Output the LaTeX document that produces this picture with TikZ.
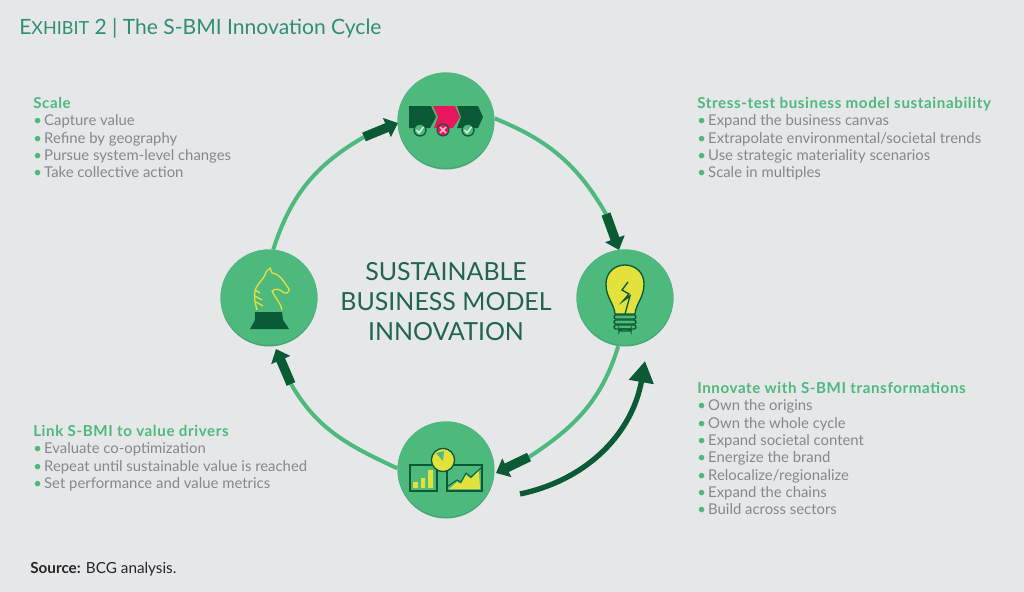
\documentclass[tikz,border=0pt]{standalone}
\usepackage{fontspec}
\setmainfont{Lato}
\newfontface\headface[LetterSpace=4]{Lato Bold}
\usetikzlibrary{arrows.meta}
\definecolor{paper}{HTML}{E6E7E9}
\definecolor{ringgreen}{HTML}{4DB97C}
\definecolor{rimgreen}{HTML}{45A873}
\definecolor{darkgreen}{HTML}{0B5A36}
\definecolor{titlegreen}{HTML}{2E8F74}
\definecolor{bodygrey}{HTML}{85888B}
\definecolor{bulbyellow}{HTML}{E3E13B}
\definecolor{alarmred}{HTML}{E8175D}
\tikzset{
	hub/.style = {circle, fill = rimgreen, minimum size = 72.75pt, inner sep = 0pt,
		path picture = {\fill [ringgreen] ([yshift = 1.3pt] path picture bounding box.center) circle (36.4pt);}},
	ringline/.style = {ringgreen, line width = 3pt},
	cyclearrow/.style = {darkgreen, line width = 7pt, -{Triangle[length = 9pt, width = 15pt]}},
	bigarrow/.style = {darkgreen, line width = 4pt, -{Triangle[length = 16pt, width = 18pt]}},
	textblock/.style = {anchor = north west, inner sep = 0pt, align = left, text = bodygrey, font = \fontsize{11.15}{13}\selectfont},
	iconline/.style = {darkgreen, line width = 1pt},
	knightline/.style = {bulbyellow, line width = 1pt, line join = round}
}
\newcommand{\bul}{\makebox[8.2pt][l]{\textcolor{ringgreen}{\textbullet}}}
\newcommand{\hd}[1]{\textcolor{ringgreen}{\headface\fontsize{11.35}{13}\selectfont #1}}
\begin{document}
\begin{tikzpicture}[x = 0.75pt, y = -0.75pt]
		\fill [paper] (0, 0) rectangle (1024, 592);
		\useasboundingbox (0, 0) rectangle (1024, 592);
		%%%%%%%%%%%%%
		\node [hub] (top) at (446, 121) {};
		\node [hub] (right) at (625, 298) {};
		\node [hub] (bottom) at (446, 470) {};
		\node [hub] (left) at (269, 298) {};
		%%%%%%%%%%%%%
		\coordinate (tailTR) at (606, 214); \coordinate (tipTR) at (619, 250);
		\coordinate (tailRB) at (529, 457); \coordinate (tipRB) at (496, 473);
		\coordinate (tailBL) at (291, 384); \coordinate (tipBL) at (276, 349);
		\coordinate (tailLT) at (364, 137); \coordinate (tipLT) at (398, 123);
		\coordinate (tailBig) at (520, 494); \coordinate (tipBig) at (645, 361);
		%%%%%%%%%%%%%
		\draw [ringline] (top.3) to [out = -22, in = 120] (tailTR);
		\draw [ringline] (right.-98) to [out = -107, in = 33] (tailRB);
		\draw [ringline] (bottom.178) to [out = 155, in = -60] (tailBL);
		\draw [ringline] (left.85) to [out = 72, in = -150] (tailLT);
		\draw [cyclearrow] (tailTR) to (tipTR);
		\draw [cyclearrow] (tailRB) to (tipRB);
		\draw [cyclearrow] (tailBL) to (tipBL);
		\draw [cyclearrow] (tailLT) to (tipLT);
		\draw [bigarrow] (tailBig) to [out = 12, in = -100] (tipBig);
		%%%%%%%%%%%%% trucks
		\fill [darkgreen] (409, 106) -- (431, 106) -- (436, 117) -- (430, 128) -- (409, 128) -- cycle;
		\fill [alarmred] (433, 106) -- (455, 106) -- (460, 117) -- (453, 128) -- (434, 128) -- (438, 117) -- cycle;
		\fill [darkgreen] (457, 106) -- (478, 106) -- (483, 117) -- (478, 128) -- (457, 128) -- (461, 117) -- cycle;
		\foreach \cx in {420, 468} {
			\draw [iconline, fill = ringgreen] (\cx, 130) circle (4.5pt);
			\draw [white!80!ringgreen, line width = 1.1pt] (\cx - 3.5, 130) -- (\cx - 1, 133) -- (\cx + 3.5, 127);
		}
		\draw [fill = alarmred, draw = darkgreen, line width = 0.8pt] (443, 130) circle (4.5pt);
		\draw [white!70!alarmred, line width = 1.1pt] (440, 127) -- (446, 133) (440, 133) -- (446, 127);
		%%%%%%%%%%%%% knight
		\draw [knightline] (257, 310) .. controls (254, 300) and (254, 292) .. (256, 288)
			.. controls (259, 282) and (265, 278) .. (266, 272) -- (270, 268) -- (272, 273)
			.. controls (280, 274) and (284, 282) .. (289, 289)
			.. controls (289, 293) and (286, 294) .. (284, 293)
			.. controls (280, 289) and (276, 288) .. (272, 291)
			.. controls (275, 298) and (281, 303) .. (282, 310);
		\draw [knightline] (255, 290) -- (260, 293) (255, 296) -- (262, 300) (256, 302) -- (263, 306);
		\fill [darkgreen] (255, 312) -- (282, 312) -- (283, 320) -- (289, 329) -- (250, 329) -- (255, 320) -- cycle;
		%%%%%%%%%%%%% bulb
		\draw [iconline, fill = bulbyellow] (615, 314) .. controls (614, 303) and (606, 298) .. (606, 284)
			.. controls (606, 272) and (615, 265) .. (625, 265)
			.. controls (635, 265) and (644, 272) .. (644, 284)
			.. controls (644, 298) and (636, 303) .. (635, 314) -- cycle;
		\draw [iconline] (628, 282) -- (622, 290) -- (629, 294) -- (623, 301) -- (630, 296) -- (625, 314);
		\foreach \by in {315, 320, 325} {
			\draw [iconline, rounded corners = 1.5pt] (614, \by) rectangle (636, \by + 4);
		}
		\draw [iconline, rounded corners = 2pt] (619, 329) rectangle (631, 331);
		%%%%%%%%%%%%% charts
		\draw [iconline] (410, 465) rectangle (437, 491);
		\fill [bulbyellow] (413, 482) rectangle (418, 488) (421, 478) rectangle (425, 488) (428, 470) rectangle (433, 488);
		\draw [iconline] (447, 465) rectangle (482, 491);
		\fill [bulbyellow] (449, 489) -- (457, 482) -- (461, 484) -- (466, 475) -- (471, 479) -- (479, 470) -- (480, 489) -- cycle;
		\draw [iconline, line width = 0.7pt] (448, 486) -- (457, 480) -- (461, 482) -- (466, 473) -- (471, 477) -- (482, 467);
		\draw [iconline, fill = bulbyellow] (443, 460) circle (8.7pt);
		\fill [ringgreen] (443, 461) -- (436, 453) -- (444, 451) -- cycle;
		%%%%%%%%%%%%%
		\node [anchor = base west, inner sep = 0pt, text = titlegreen, font = \fontsize{15.8}{18}\selectfont] (title) at (19, 35)
			{E{\fontsize{13.5}{18}\selectfont XHIBIT} 2 | The S-BMI Innovation Cycle};
		\node [anchor = center, inner sep = 0pt, align = center, text = titlegreen!70!black, font = \fontsize{18.7}{22.4}\selectfont] (centre) at (446, 301.5)
			{SUSTAINABLE\\BUSINESS MODEL\\INNOVATION};
		\node [textblock] (scale) at (33, 97) {\hd{Scale}\\
			\bul Capture value\\ \bul Refine by geography\\ \bul Pursue system-level changes\\ \bul Take collective action};
		\node [textblock] (stress) at (697, 97) {\hd{Stress-test business model sustainability}\\
			\bul Expand the business canvas\\ \bul Extrapolate environmental/societal trends\\ \bul Use strategic materiality scenarios\\ \bul Scale in multiples};
		\node [textblock] (link) at (33, 425) {\hd{Link S-BMI to value drivers}\\
			\bul Evaluate co-optimization\\ \bul Repeat until sustainable value is reached\\ \bul Set performance and value metrics};
		\node [textblock] (innovate) at (697, 382) {\hd{Innovate with S-BMI transformations}\\
			\bul Own the origins\\ \bul Own the whole cycle\\ \bul Expand societal content\\ \bul Energize the brand\\ \bul Relocalize/regionalize\\ \bul Expand the chains\\ \bul Build across sectors};
		\node [anchor = base west, inner sep = 0pt, text = black!85, font = \fontsize{11.45}{13}\selectfont] (source) at (30, 573) {\textbf{Source:} BCG analysis.};
\end{tikzpicture}
\end{document}
